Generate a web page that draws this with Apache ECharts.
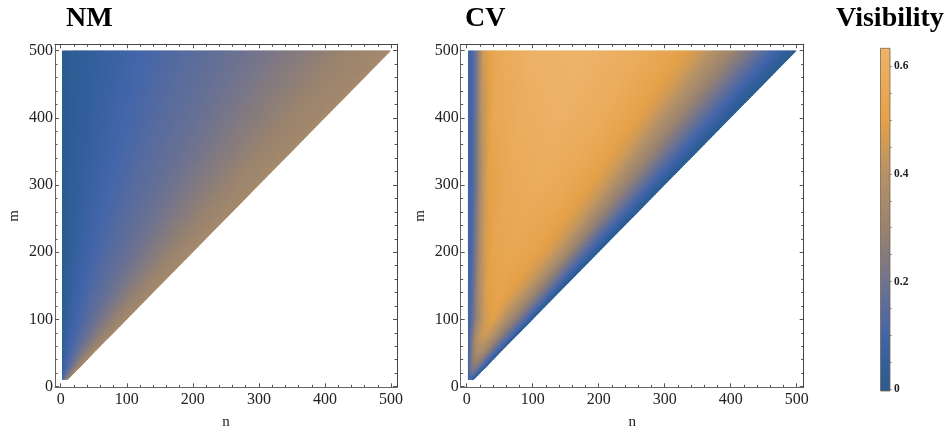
<!DOCTYPE html>
<html><head><meta charset="utf-8">
<style>html,body{margin:0;padding:0;background:#fff}#c{width:948px;height:434px}</style>
<script src="https://cdn.jsdelivr.net/npm/echarts@6/dist/echarts.min.js"></script>
</head><body><div id="c"></div>
<script>
const rowsM = [10,20,30,50,75,100,150,200,300,400,500];
const nStops = [
 [2,2.5,3,3.5,4,4.5,5,5.5,6,6.5,7,7.8,8.5,9.2,9.6,10],
 [2,3,4,5,6,7,8,10,11,13,14,15.5,17,18.5,19,20],
 [2,3,5,6,8,9,11,13,15,19,21,23,25,27.5,29,30],
 [2,4,6,8,10,13,17,22,26,31,35,39,42,46,48,50],
 [2,4,6,9,12,16,22,30,38,46,52,58,64,69,72,75],
 [2,4,7,10,14,20,28,40,50,62,70,78,85,92,96,100],
 [2,5,8,12,16,21,30,52,75,93,105,117,127,138,144,150],
 [2,5,9,14,19,26,40,70,100,124,140,156,170,184,192,200],
 [2,6,10,16,22,32,60,105,150,186,210,234,255,276,288,300],
 [2,6,10,16,22,40,80,140,200,248,280,312,340,368,384,400],
 [2,6,10,16,25,50,100,175,250,310,350,390,425,460,480,500]
];
const nmValues = [
 [.09,.105,.125,.14,.155,.17,.18,.2,.215,.23,.25,.275,.3,.32,.33,.345],
 [.05,.07,.09,.105,.12,.14,.155,.18,.2,.23,.25,.275,.3,.32,.33,.345],
 [.04,.05,.08,.09,.105,.12,.14,.16,.18,.225,.25,.275,.3,.32,.33,.345],
 [.02,.043,.06,.075,.09,.105,.135,.165,.19,.225,.25,.28,.3,.32,.33,.345],
 [.013,.03,.043,.06,.075,.095,.115,.15,.18,.22,.25,.275,.3,.32,.33,.345],
 [.01,.02,.04,.055,.07,.09,.11,.15,.18,.225,.25,.28,.305,.32,.33,.345],
 [.007,.017,.03,.043,.055,.07,.09,.14,.18,.22,.25,.275,.3,.32,.33,.345],
 [.005,.012,.025,.04,.05,.065,.09,.14,.18,.22,.25,.275,.3,.32,.33,.345],
 [.002,.01,.018,.03,.04,.055,.09,.14,.18,.22,.25,.275,.3,.32,.33,.345],
 [0,.005,.012,.022,.032,.05,.09,.14,.18,.22,.25,.275,.3,.32,.33,.345],
 [0,.005,.01,.02,.03,.05,.09,.14,.18,.22,.25,.275,.3,.32,.33,.345]
];
const cvValues = [
 [.06,.07,.08,.09,.09,.09,.09,.09,.09,.08,.07,.06,.05,.04,.02,0],
 [.08,.1,.13,.15,.17,.18,.19,.19,.17,.15,.13,.1,.08,.06,.03,0],
 [.09,.12,.16,.2,.23,.25,.26,.26,.24,.2,.16,.13,.1,.07,.04,0],
 [.1,.13,.19,.25,.29,.33,.36,.36,.32,.27,.21,.16,.12,.08,.04,0],
 [.1,.12,.17,.25,.33,.39,.44,.44,.4,.33,.27,.2,.15,.09,.05,0],
 [.1,.11,.14,.2,.28,.37,.46,.5,.44,.36,.3,.24,.17,.1,.05,0],
 [.1,.11,.14,.22,.31,.39,.49,.53,.49,.43,.36,.28,.2,.11,.05,0],
 [.1,.1,.14,.24,.35,.45,.53,.55,.52,.47,.41,.31,.21,.11,.06,0],
 [.1,.1,.13,.25,.38,.49,.56,.59,.56,.5,.44,.33,.23,.12,.06,0],
 [.1,.1,.13,.25,.39,.55,.6,.62,.59,.52,.45,.34,.23,.12,.06,0],
 [.1,.1,.13,.24,.46,.57,.62,.63,.6,.53,.46,.35,.24,.12,.06,0]
];
const paletteValues = [0,.05,.105,.2,.3,.4,.5,.6,.633];
const paletteColors = ['#2a5d90','#335f9c','#4466aa','#6f7390','#99836f','#b59268','#e5a148','#ebae60','#edb46c'];
const titles = ['NM','CV','Visibility'];
const xMajor = [0,100,200,300,400,500];
const yMajor = [0,100,200,300,400,500];
const minorTicks = [20,40,60,80,120,140,160,180,220,240,260,280,320,340,360,380,420,440,460,480];
const barLabels = [0,.2,.4,.6];
const barTicks = [0,.05,.1,.15,.2,.25,.3,.35,.4,.45,.5,.55,.6];

const rgb = paletteColors.map(c => [1,3,5].map(i => parseInt(c.substr(i,2),16)));
function colorOf(v){
  let k = 0;
  while (k < paletteValues.length-2 && v > paletteValues[k+1]) k++;
  const t = Math.max(0,Math.min(1,(v-paletteValues[k])/(paletteValues[k+1]-paletteValues[k])));
  const a = rgb[k], b = rgb[k+1];
  return 'rgb('+a.map((x,i)=>Math.round(x+(b[i]-x)*t)).join(',')+')';
}
const lerp=(a,b,t)=>a+(b-a)*t;
function cells(table){
  const out=[];
  for(let i=0;i<rowsM.length-1;i++)for(let j=0;j<nStops[0].length-1;j++){
    out.push([nStops[i][j],rowsM[i],table[i][j],i,j]);
  }
  return out;
}
function painter(table){
  const lastRow=rowsM.length-2,lastCol=nStops[0].length-2;
  return function(params,api){
    const i=api.value(3), j=api.value(4);
    const bil=(A,B,C,D,u,v)=>lerp(lerp(A,B,u),lerp(C,D,u),v);
    const n=(u,v)=>bil(nStops[i][j],nStops[i][j+1],nStops[i+1][j],nStops[i+1][j+1],u,v);
    const m=(v)=>lerp(rowsM[i],rowsM[i+1],v);
    const val=(u,v)=>bil(table[i][j],table[i][j+1],table[i+1][j],table[i+1][j+1],u,v);
    const p00=api.coord([n(0,0),m(0)]),p11=api.coord([n(1,1),m(1)]),p01=api.coord([n(0,1),m(1)]);
    const wPx=Math.abs(p11[0]-p01[0]),hPx=Math.abs(p11[1]-p00[1]);
    const ku=Math.max(1,Math.ceil(wPx/2.5));
    const kv=Math.max(1,Math.ceil(hPx/2.5));
    const du=1.2/Math.max(wPx,1),dv=1.2/Math.max(hPx,1);
    const ch=[];
    for(let a=0;a<ku;a++)for(let b=0;b<kv;b++){
      const u0=a/ku,u1=(a+1)/ku,v0=b/kv,v1=(b+1)/kv;
      const c=colorOf(val((u0+u1)/2,(v0+v1)/2));
      const ue=(j===lastCol&&a===ku-1)?1:u1+du;
      const ve=(i===lastRow&&b===kv-1)?1:v1+dv;
      ch.push({type:'polygon',shape:{points:[
        api.coord([n(u0,v0),m(v0)]),api.coord([n(ue,v0),m(v0)]),
        api.coord([n(ue,ve),m(ve)]),api.coord([n(u0,ve),m(ve)])]},
        style:{fill:c}});
    }
    return {type:'group',children:ch,silent:true};
  };
}
const font='"Liberation Serif",serif';
const panels=[
 {left:55,width:342,xMin:-8.6,xMax:509,table:nmValues},
 {left:460.7,width:343,xMin:-9,xMax:510.6,table:cvValues}
];
const yMin=-1,yMax=509.4,gridTop=44.3,gridH=343;
const grids=[],xAxes=[],yAxes=[],series=[];
function addAxes(g,p,showLabels,ticks,len,withName){
  const base={min:p.xMin,max:p.xMax,type:'value',gridIndex:g,splitLine:{show:false}};
  const lineCol='#666',topCol='#444';
  xAxes.push({...base,position:'bottom',
    name:withName?'n':'',nameLocation:'middle',nameGap:27,nameTextStyle:{fontFamily:font,fontSize:15,color:'#222'},
    axisLine:{show:showLabels,onZero:false,lineStyle:{color:lineCol,width:1}},
    axisTick:{show:true,inside:true,length:len,customValues:ticks,lineStyle:{color:'#555',width:1}},
    axisLabel:showLabels?{show:true,customValues:xMajor,margin:4,fontFamily:font,fontSize:16,color:'#222',hideOverlap:false}:{show:false}});
  xAxes.push({...base,position:'top',
    axisLine:{show:showLabels,onZero:false,lineStyle:{color:topCol,width:1}},
    axisTick:{show:true,inside:true,length:len,customValues:ticks,lineStyle:{color:'#555',width:1}},
    axisLabel:{show:false}});
  const ybase={min:yMin,max:yMax,type:'value',gridIndex:g,splitLine:{show:false}};
  yAxes.push({...ybase,position:'left',
    name:withName?'m':'',nameLocation:'middle',nameGap:33,nameRotate:90,nameTextStyle:{fontFamily:font,fontSize:15,color:'#222'},
    axisLine:{show:showLabels,onZero:false,lineStyle:{color:lineCol,width:1}},
    axisTick:{show:true,inside:true,length:len,customValues:ticks,lineStyle:{color:'#555',width:1}},
    axisLabel:showLabels?{show:true,customValues:yMajor,margin:2,fontFamily:font,fontSize:16,color:'#222',hideOverlap:false}:{show:false}});
  yAxes.push({...ybase,position:'right',
    axisLine:{show:showLabels,onZero:false,lineStyle:{color:topCol,width:1}},
    axisTick:{show:true,inside:true,length:len,customValues:ticks,lineStyle:{color:'#555',width:1}},
    axisLabel:{show:false}});
}
panels.forEach(p=>{
  const gMajor=grids.length;
  grids.push({left:p.left,width:p.width,top:gridTop,height:gridH,outerBoundsMode:'none'});
  addAxes(gMajor,p,true,xMajor,4,true);
  const gMinor=grids.length;
  grids.push({left:p.left,width:p.width,top:gridTop,height:gridH,outerBoundsMode:'none'});
  addAxes(gMinor,p,false,minorTicks,2.5,false);
  series.push({type:'custom',xAxisIndex:gMajor*2,yAxisIndex:gMajor*2,
    data:cells(p.table),encode:{x:0,y:1},renderItem:painter(p.table),clip:false,silent:true,z:1,progressive:0});
});
const gBar=grids.length;
grids.push({left:880.5,width:9.5,top:48.3,height:342.7,outerBoundsMode:'none'});
xAxes.push({type:'value',gridIndex:gBar,min:0,max:1,show:false});
yAxes.push({type:'value',gridIndex:gBar,min:-.003,max:.633,position:'right',splitLine:{show:false},
  axisLine:{show:false,onZero:false},
  axisTick:{show:true,length:2,customValues:barTicks,lineStyle:{color:'#999',width:1}},
  axisLabel:{show:true,customValues:barLabels,margin:4,fontFamily:font,fontSize:11.5,fontWeight:'bold',color:'#222',hideOverlap:false,
    formatter:v=>String(Math.round(v*10)/10)}});
series.push({type:'custom',xAxisIndex:xAxes.length-1,yAxisIndex:yAxes.length-1,silent:true,
  data:[[0,-.003,1,.633]],encode:{x:[0,2],y:[1,3]},
  renderItem:(params,api)=>{
    const a=api.coord([0,-.003]),b=api.coord([1,.633]);
    const span=.636;
    return {type:'rect',shape:{x:a[0],y:b[1],width:b[0]-a[0],height:a[1]-b[1]},
      style:{stroke:'rgba(120,95,70,.75)',lineWidth:1,
        fill:new echarts.graphic.LinearGradient(0,1,0,0,paletteValues.map((v,i)=>({offset:(v+.003)/span,color:paletteColors[i]})))}};
  }});
const chart=echarts.init(document.getElementById('c'),null,{renderer:'canvas'});
const tStyle={fontFamily:font,fontSize:28,fontWeight:'bold',color:'#000'};
chart.setOption({animation:false,backgroundColor:'#fff',
  title:[{text:titles[0],left:61,top:0,textStyle:tStyle},{text:titles[1],left:460,top:0,textStyle:tStyle},{text:titles[2],left:831,top:0,textStyle:tStyle}],
  grid:grids,xAxis:xAxes,yAxis:yAxes,series});
</script></body></html>
